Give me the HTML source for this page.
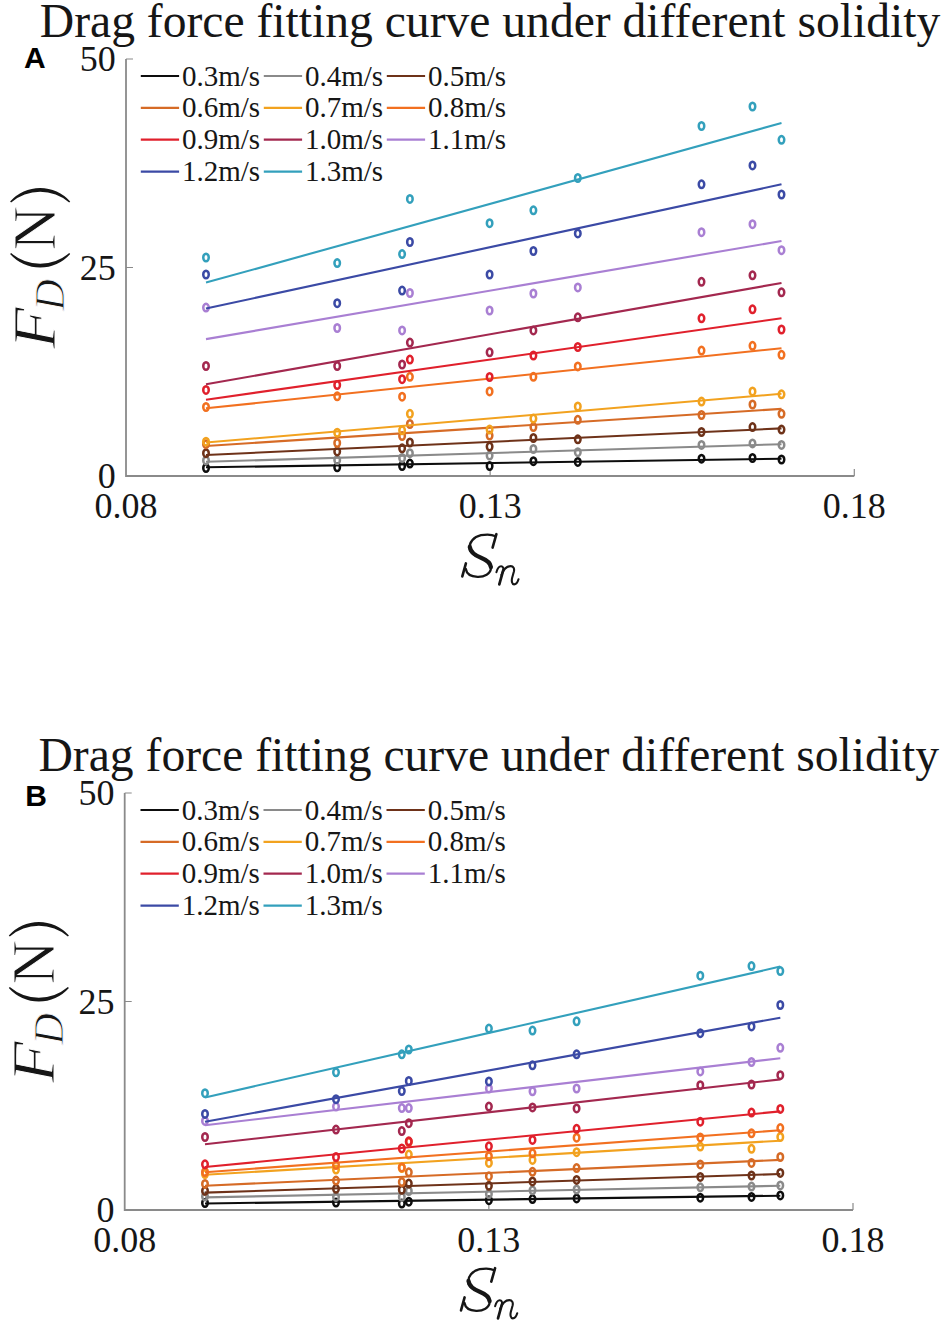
<!DOCTYPE html>
<html><head><meta charset="utf-8"><style>
html,body{margin:0;padding:0;background:#fff;width:946px;height:1323px;overflow:hidden}
svg{display:block}
</style></head><body>
<svg width="946" height="1323" viewBox="0 0 946 1323">
<rect width="946" height="1323" fill="#fff"/>
<text x="39.8" y="37" font-family="'Liberation Serif', serif" font-size="47.6" fill="#161616">Drag force fitting curve under different solidity</text>
<text x="24.1" y="67.9" font-family="'Liberation Sans', sans-serif" font-weight="bold" font-size="30" fill="#000">A</text>
<path d="M126 59 V476 H854.3" fill="none" stroke="#8a8a8a" stroke-width="1.8"/>
<path d="M126 59 H133 M126 267.5 H133 M490.15 476 V469 M854.3 476 V469" fill="none" stroke="#8a8a8a" stroke-width="1.2"/>
<text x="115.8" y="71.4" text-anchor="end" font-family="'Liberation Serif', serif" font-size="36" fill="#161616">50</text>
<text x="115.8" y="279.6" text-anchor="end" font-family="'Liberation Serif', serif" font-size="36" fill="#161616">25</text>
<text x="115.8" y="488" text-anchor="end" font-family="'Liberation Serif', serif" font-size="36" fill="#161616">0</text>
<text x="126" y="517.8" text-anchor="middle" font-family="'Liberation Serif', serif" font-size="36" fill="#161616">0.08</text>
<text x="490.15" y="517.8" text-anchor="middle" font-family="'Liberation Serif', serif" font-size="36" fill="#161616">0.13</text>
<text x="854.3" y="517.8" text-anchor="middle" font-family="'Liberation Serif', serif" font-size="36" fill="#161616">0.18</text>
<text transform="translate(55.3,348.7) rotate(-90) scale(1.11,1)" x="0" y="0" font-family="'Liberation Serif', serif" font-style="italic" font-size="61" fill="#161616" stroke="#fff" stroke-width="0.9" paint-order="normal">F</text>
<text transform="translate(64.2,310.8) rotate(-90) scale(1.04,1)" x="0" y="0" font-family="'Liberation Serif', serif" font-style="italic" font-size="42" fill="#161616" stroke="#fff" stroke-width="0.9" paint-order="normal">D</text>
<text transform="translate(55.3,250.5) rotate(-90) scale(1.0,1)" x="0" y="0" font-family="'Liberation Serif', serif" font-size="61" fill="#161616" stroke="#fff" stroke-width="0.9" paint-order="normal">N</text>
<path d="M10.1 201.6 A40 40 0 0 1 70.2 201.6 L69.2 202.5 A45 45 0 0 0 11.1 202.5 Z" fill="#161616"/>
<path d="M10.1 254 A40 40 0 0 0 70.2 254 L69.2 253.1 A45 45 0 0 1 11.1 253.1 Z" fill="#161616"/>
<g transform="translate(0,0)" fill="none" stroke="#161616" stroke-linecap="round"><path d="M495.6 536.2 C492.3 534.6 486.5 534.2 481 535.2 C473.5 537 469 542.5 469.6 548.5 C470.4 553.8 476 555.8 481 557.8 C487 560.2 491.4 563.2 491 568.2 C490.4 574 484.5 577 477.5 576.8 C471 576.5 466.5 573.5 465.8 569" stroke-width="2.3"/><path d="M469.8 547 C470.5 553 476 555.8 481 557.8 C486.5 560 490.4 562.8 490.9 567" stroke-width="4.3"/><path d="M496.4 534.2 L492.6 547.6" stroke-width="2.6"/><path d="M465.9 563.4 L462.3 576.4" stroke-width="2.6"/></g>
<g transform="translate(0,0)" fill="none" stroke="#161616" stroke-linecap="round" stroke-linejoin="round"><path d="M496.4 572.2 C497.4 568.6 499.1 566.3 501.1 566.3 C503 566.3 503.7 568 503.2 570.3" stroke-width="2"/><path d="M503.2 570.3 L499.3 584.4" stroke-width="2.7"/><path d="M501.4 575 C503.6 569.2 507 566.1 510.6 566.1 C513.5 566.1 514.6 568.5 513.9 571.5 L512.1 578 C511.4 581 511.9 584.4 514.1 584.4 C516.1 584.4 517.7 582 518.5 579.3" stroke-width="2.1"/></g>
<line x1="140.8" y1="76.0" x2="179.10000000000002" y2="76.0" stroke="#0d0d0d" stroke-width="2.2"/>
<text x="182.0" y="85.6" font-family="'Liberation Serif', serif" font-size="29" fill="#161616">0.3m/s</text>
<line x1="263.8" y1="76.0" x2="302.1" y2="76.0" stroke="#8a8a8a" stroke-width="2.2"/>
<text x="305.0" y="85.6" font-family="'Liberation Serif', serif" font-size="29" fill="#161616">0.4m/s</text>
<line x1="386.8" y1="76.0" x2="425.1" y2="76.0" stroke="#6e3219" stroke-width="2.2"/>
<text x="428.0" y="85.6" font-family="'Liberation Serif', serif" font-size="29" fill="#161616">0.5m/s</text>
<line x1="140.8" y1="107.85" x2="179.10000000000002" y2="107.85" stroke="#d66b26" stroke-width="2.2"/>
<text x="182.0" y="117.44999999999999" font-family="'Liberation Serif', serif" font-size="29" fill="#161616">0.6m/s</text>
<line x1="263.8" y1="107.85" x2="302.1" y2="107.85" stroke="#f2a21f" stroke-width="2.2"/>
<text x="305.0" y="117.44999999999999" font-family="'Liberation Serif', serif" font-size="29" fill="#161616">0.7m/s</text>
<line x1="386.8" y1="107.85" x2="425.1" y2="107.85" stroke="#f27020" stroke-width="2.2"/>
<text x="428.0" y="117.44999999999999" font-family="'Liberation Serif', serif" font-size="29" fill="#161616">0.8m/s</text>
<line x1="140.8" y1="139.7" x2="179.10000000000002" y2="139.7" stroke="#e0202c" stroke-width="2.2"/>
<text x="182.0" y="149.29999999999998" font-family="'Liberation Serif', serif" font-size="29" fill="#161616">0.9m/s</text>
<line x1="263.8" y1="139.7" x2="302.1" y2="139.7" stroke="#a3284f" stroke-width="2.2"/>
<text x="305.0" y="149.29999999999998" font-family="'Liberation Serif', serif" font-size="29" fill="#161616">1.0m/s</text>
<line x1="386.8" y1="139.7" x2="425.1" y2="139.7" stroke="#a97fd3" stroke-width="2.2"/>
<text x="428.0" y="149.29999999999998" font-family="'Liberation Serif', serif" font-size="29" fill="#161616">1.1m/s</text>
<line x1="140.8" y1="171.55" x2="179.10000000000002" y2="171.55" stroke="#3b4aa5" stroke-width="2.2"/>
<text x="182.0" y="181.15" font-family="'Liberation Serif', serif" font-size="29" fill="#161616">1.2m/s</text>
<line x1="263.8" y1="171.55" x2="302.1" y2="171.55" stroke="#33a0bc" stroke-width="2.2"/>
<text x="305.0" y="181.15" font-family="'Liberation Serif', serif" font-size="29" fill="#161616">1.3m/s</text>
<ellipse cx="206" cy="468" rx="2.75" ry="3.75" fill="none" stroke="#0d0d0d" stroke-width="2.5"/>
<ellipse cx="337.2" cy="467.3" rx="2.75" ry="3.75" fill="none" stroke="#0d0d0d" stroke-width="2.5"/>
<ellipse cx="402.1" cy="466" rx="2.75" ry="3.75" fill="none" stroke="#0d0d0d" stroke-width="2.5"/>
<ellipse cx="409.9" cy="463.6" rx="2.75" ry="3.75" fill="none" stroke="#0d0d0d" stroke-width="2.5"/>
<ellipse cx="489.6" cy="466" rx="2.75" ry="3.75" fill="none" stroke="#0d0d0d" stroke-width="2.5"/>
<ellipse cx="533.4" cy="461.2" rx="2.75" ry="3.75" fill="none" stroke="#0d0d0d" stroke-width="2.5"/>
<ellipse cx="577.8" cy="461.9" rx="2.75" ry="3.75" fill="none" stroke="#0d0d0d" stroke-width="2.5"/>
<ellipse cx="701.5" cy="458.7" rx="2.75" ry="3.75" fill="none" stroke="#0d0d0d" stroke-width="2.5"/>
<ellipse cx="752.5" cy="458" rx="2.75" ry="3.75" fill="none" stroke="#0d0d0d" stroke-width="2.5"/>
<ellipse cx="781.5" cy="459.5" rx="2.75" ry="3.75" fill="none" stroke="#0d0d0d" stroke-width="2.5"/>
<line x1="206" y1="467.3" x2="781.5" y2="458.7" stroke="#0d0d0d" stroke-width="2.1"/>
<ellipse cx="206" cy="460.4" rx="2.75" ry="3.75" fill="none" stroke="#8a8a8a" stroke-width="2.5"/>
<ellipse cx="337.2" cy="460" rx="2.75" ry="3.75" fill="none" stroke="#8a8a8a" stroke-width="2.5"/>
<ellipse cx="402.1" cy="458" rx="2.75" ry="3.75" fill="none" stroke="#8a8a8a" stroke-width="2.5"/>
<ellipse cx="409.9" cy="453.2" rx="2.75" ry="3.75" fill="none" stroke="#8a8a8a" stroke-width="2.5"/>
<ellipse cx="489.6" cy="455.6" rx="2.75" ry="3.75" fill="none" stroke="#8a8a8a" stroke-width="2.5"/>
<ellipse cx="533.4" cy="449" rx="2.75" ry="3.75" fill="none" stroke="#8a8a8a" stroke-width="2.5"/>
<ellipse cx="577.8" cy="452.2" rx="2.75" ry="3.75" fill="none" stroke="#8a8a8a" stroke-width="2.5"/>
<ellipse cx="701.5" cy="444.9" rx="2.75" ry="3.75" fill="none" stroke="#8a8a8a" stroke-width="2.5"/>
<ellipse cx="752.5" cy="443.4" rx="2.75" ry="3.75" fill="none" stroke="#8a8a8a" stroke-width="2.5"/>
<ellipse cx="781.5" cy="444.9" rx="2.75" ry="3.75" fill="none" stroke="#8a8a8a" stroke-width="2.5"/>
<line x1="206" y1="461.8" x2="781.5" y2="444.2" stroke="#8a8a8a" stroke-width="2.1"/>
<ellipse cx="206" cy="453.2" rx="2.75" ry="3.75" fill="none" stroke="#6e3219" stroke-width="2.5"/>
<ellipse cx="337.2" cy="451.4" rx="2.75" ry="3.75" fill="none" stroke="#6e3219" stroke-width="2.5"/>
<ellipse cx="402.1" cy="448.3" rx="2.75" ry="3.75" fill="none" stroke="#6e3219" stroke-width="2.5"/>
<ellipse cx="409.9" cy="442.5" rx="2.75" ry="3.75" fill="none" stroke="#6e3219" stroke-width="2.5"/>
<ellipse cx="489.6" cy="446.6" rx="2.75" ry="3.75" fill="none" stroke="#6e3219" stroke-width="2.5"/>
<ellipse cx="533.4" cy="438" rx="2.75" ry="3.75" fill="none" stroke="#6e3219" stroke-width="2.5"/>
<ellipse cx="577.8" cy="439.3" rx="2.75" ry="3.75" fill="none" stroke="#6e3219" stroke-width="2.5"/>
<ellipse cx="701.5" cy="432" rx="2.75" ry="3.75" fill="none" stroke="#6e3219" stroke-width="2.5"/>
<ellipse cx="752.5" cy="427.1" rx="2.75" ry="3.75" fill="none" stroke="#6e3219" stroke-width="2.5"/>
<ellipse cx="781.5" cy="429.6" rx="2.75" ry="3.75" fill="none" stroke="#6e3219" stroke-width="2.5"/>
<line x1="206" y1="455" x2="781.5" y2="428.4" stroke="#6e3219" stroke-width="2.1"/>
<ellipse cx="206" cy="444.2" rx="2.75" ry="3.75" fill="none" stroke="#d66b26" stroke-width="2.5"/>
<ellipse cx="337.2" cy="443" rx="2.75" ry="3.75" fill="none" stroke="#d66b26" stroke-width="2.5"/>
<ellipse cx="402.1" cy="436.1" rx="2.75" ry="3.75" fill="none" stroke="#d66b26" stroke-width="2.5"/>
<ellipse cx="409.9" cy="424" rx="2.75" ry="3.75" fill="none" stroke="#d66b26" stroke-width="2.5"/>
<ellipse cx="489.6" cy="435.6" rx="2.75" ry="3.75" fill="none" stroke="#d66b26" stroke-width="2.5"/>
<ellipse cx="533.4" cy="427.1" rx="2.75" ry="3.75" fill="none" stroke="#d66b26" stroke-width="2.5"/>
<ellipse cx="577.8" cy="419.8" rx="2.75" ry="3.75" fill="none" stroke="#d66b26" stroke-width="2.5"/>
<ellipse cx="701.5" cy="415" rx="2.75" ry="3.75" fill="none" stroke="#d66b26" stroke-width="2.5"/>
<ellipse cx="752.5" cy="404.5" rx="2.75" ry="3.75" fill="none" stroke="#d66b26" stroke-width="2.5"/>
<ellipse cx="781.5" cy="413.8" rx="2.75" ry="3.75" fill="none" stroke="#d66b26" stroke-width="2.5"/>
<line x1="206" y1="446" x2="781.5" y2="408.9" stroke="#d66b26" stroke-width="2.1"/>
<ellipse cx="206" cy="441.7" rx="2.75" ry="3.75" fill="none" stroke="#f2a21f" stroke-width="2.5"/>
<ellipse cx="337.2" cy="432.7" rx="2.75" ry="3.75" fill="none" stroke="#f2a21f" stroke-width="2.5"/>
<ellipse cx="402.1" cy="430.3" rx="2.75" ry="3.75" fill="none" stroke="#f2a21f" stroke-width="2.5"/>
<ellipse cx="409.9" cy="413.8" rx="2.75" ry="3.75" fill="none" stroke="#f2a21f" stroke-width="2.5"/>
<ellipse cx="489.6" cy="429.6" rx="2.75" ry="3.75" fill="none" stroke="#f2a21f" stroke-width="2.5"/>
<ellipse cx="533.4" cy="418.6" rx="2.75" ry="3.75" fill="none" stroke="#f2a21f" stroke-width="2.5"/>
<ellipse cx="577.8" cy="406.5" rx="2.75" ry="3.75" fill="none" stroke="#f2a21f" stroke-width="2.5"/>
<ellipse cx="701.5" cy="401.6" rx="2.75" ry="3.75" fill="none" stroke="#f2a21f" stroke-width="2.5"/>
<ellipse cx="752.5" cy="391.4" rx="2.75" ry="3.75" fill="none" stroke="#f2a21f" stroke-width="2.5"/>
<ellipse cx="781.5" cy="394.3" rx="2.75" ry="3.75" fill="none" stroke="#f2a21f" stroke-width="2.5"/>
<line x1="206" y1="442.5" x2="781.5" y2="393.8" stroke="#f2a21f" stroke-width="2.1"/>
<ellipse cx="206" cy="407" rx="2.75" ry="3.75" fill="none" stroke="#f27020" stroke-width="2.5"/>
<ellipse cx="337.2" cy="396.3" rx="2.75" ry="3.75" fill="none" stroke="#f27020" stroke-width="2.5"/>
<ellipse cx="402.1" cy="396.7" rx="2.75" ry="3.75" fill="none" stroke="#f27020" stroke-width="2.5"/>
<ellipse cx="409.9" cy="376.8" rx="2.75" ry="3.75" fill="none" stroke="#f27020" stroke-width="2.5"/>
<ellipse cx="489.6" cy="391.4" rx="2.75" ry="3.75" fill="none" stroke="#f27020" stroke-width="2.5"/>
<ellipse cx="533.4" cy="376.8" rx="2.75" ry="3.75" fill="none" stroke="#f27020" stroke-width="2.5"/>
<ellipse cx="577.8" cy="366.4" rx="2.75" ry="3.75" fill="none" stroke="#f27020" stroke-width="2.5"/>
<ellipse cx="701.5" cy="350.6" rx="2.75" ry="3.75" fill="none" stroke="#f27020" stroke-width="2.5"/>
<ellipse cx="752.5" cy="345.8" rx="2.75" ry="3.75" fill="none" stroke="#f27020" stroke-width="2.5"/>
<ellipse cx="781.5" cy="354.8" rx="2.75" ry="3.75" fill="none" stroke="#f27020" stroke-width="2.5"/>
<line x1="206" y1="408.3" x2="781.5" y2="348.2" stroke="#f27020" stroke-width="2.1"/>
<ellipse cx="206" cy="389.9" rx="2.75" ry="3.75" fill="none" stroke="#e0202c" stroke-width="2.5"/>
<ellipse cx="337.2" cy="385" rx="2.75" ry="3.75" fill="none" stroke="#e0202c" stroke-width="2.5"/>
<ellipse cx="402.1" cy="379.2" rx="2.75" ry="3.75" fill="none" stroke="#e0202c" stroke-width="2.5"/>
<ellipse cx="409.9" cy="359.6" rx="2.75" ry="3.75" fill="none" stroke="#e0202c" stroke-width="2.5"/>
<ellipse cx="489.6" cy="377" rx="2.75" ry="3.75" fill="none" stroke="#e0202c" stroke-width="2.5"/>
<ellipse cx="533.4" cy="355.5" rx="2.75" ry="3.75" fill="none" stroke="#e0202c" stroke-width="2.5"/>
<ellipse cx="577.8" cy="347" rx="2.75" ry="3.75" fill="none" stroke="#e0202c" stroke-width="2.5"/>
<ellipse cx="701.5" cy="318.3" rx="2.75" ry="3.75" fill="none" stroke="#e0202c" stroke-width="2.5"/>
<ellipse cx="752.5" cy="309.3" rx="2.75" ry="3.75" fill="none" stroke="#e0202c" stroke-width="2.5"/>
<ellipse cx="781.5" cy="329.5" rx="2.75" ry="3.75" fill="none" stroke="#e0202c" stroke-width="2.5"/>
<line x1="206" y1="399.7" x2="781.5" y2="318.3" stroke="#e0202c" stroke-width="2.1"/>
<ellipse cx="206" cy="366" rx="2.75" ry="3.75" fill="none" stroke="#a3284f" stroke-width="2.5"/>
<ellipse cx="337.2" cy="366" rx="2.75" ry="3.75" fill="none" stroke="#a3284f" stroke-width="2.5"/>
<ellipse cx="402.1" cy="364.5" rx="2.75" ry="3.75" fill="none" stroke="#a3284f" stroke-width="2.5"/>
<ellipse cx="409.9" cy="342.6" rx="2.75" ry="3.75" fill="none" stroke="#a3284f" stroke-width="2.5"/>
<ellipse cx="489.6" cy="352.3" rx="2.75" ry="3.75" fill="none" stroke="#a3284f" stroke-width="2.5"/>
<ellipse cx="533.4" cy="330.4" rx="2.75" ry="3.75" fill="none" stroke="#a3284f" stroke-width="2.5"/>
<ellipse cx="577.8" cy="317.3" rx="2.75" ry="3.75" fill="none" stroke="#a3284f" stroke-width="2.5"/>
<ellipse cx="701.5" cy="281.8" rx="2.75" ry="3.75" fill="none" stroke="#a3284f" stroke-width="2.5"/>
<ellipse cx="752.5" cy="275.3" rx="2.75" ry="3.75" fill="none" stroke="#a3284f" stroke-width="2.5"/>
<ellipse cx="781.5" cy="292.3" rx="2.75" ry="3.75" fill="none" stroke="#a3284f" stroke-width="2.5"/>
<line x1="206" y1="384.3" x2="781.5" y2="283" stroke="#a3284f" stroke-width="2.1"/>
<ellipse cx="206" cy="307.6" rx="2.75" ry="3.75" fill="none" stroke="#a97fd3" stroke-width="2.5"/>
<ellipse cx="337.2" cy="328" rx="2.75" ry="3.75" fill="none" stroke="#a97fd3" stroke-width="2.5"/>
<ellipse cx="402.1" cy="330.4" rx="2.75" ry="3.75" fill="none" stroke="#a97fd3" stroke-width="2.5"/>
<ellipse cx="409.9" cy="293" rx="2.75" ry="3.75" fill="none" stroke="#a97fd3" stroke-width="2.5"/>
<ellipse cx="489.6" cy="310.5" rx="2.75" ry="3.75" fill="none" stroke="#a97fd3" stroke-width="2.5"/>
<ellipse cx="533.4" cy="293.5" rx="2.75" ry="3.75" fill="none" stroke="#a97fd3" stroke-width="2.5"/>
<ellipse cx="577.8" cy="287.4" rx="2.75" ry="3.75" fill="none" stroke="#a97fd3" stroke-width="2.5"/>
<ellipse cx="701.5" cy="232.2" rx="2.75" ry="3.75" fill="none" stroke="#a97fd3" stroke-width="2.5"/>
<ellipse cx="752.5" cy="224.2" rx="2.75" ry="3.75" fill="none" stroke="#a97fd3" stroke-width="2.5"/>
<ellipse cx="781.5" cy="250.2" rx="2.75" ry="3.75" fill="none" stroke="#a97fd3" stroke-width="2.5"/>
<line x1="206" y1="339.1" x2="781.5" y2="241" stroke="#a97fd3" stroke-width="2.1"/>
<ellipse cx="206" cy="274.5" rx="2.75" ry="3.75" fill="none" stroke="#3b4aa5" stroke-width="2.5"/>
<ellipse cx="337.2" cy="303.2" rx="2.75" ry="3.75" fill="none" stroke="#3b4aa5" stroke-width="2.5"/>
<ellipse cx="402.1" cy="290.6" rx="2.75" ry="3.75" fill="none" stroke="#3b4aa5" stroke-width="2.5"/>
<ellipse cx="409.9" cy="242" rx="2.75" ry="3.75" fill="none" stroke="#3b4aa5" stroke-width="2.5"/>
<ellipse cx="489.6" cy="274.5" rx="2.75" ry="3.75" fill="none" stroke="#3b4aa5" stroke-width="2.5"/>
<ellipse cx="533.4" cy="251" rx="2.75" ry="3.75" fill="none" stroke="#3b4aa5" stroke-width="2.5"/>
<ellipse cx="577.8" cy="233.4" rx="2.75" ry="3.75" fill="none" stroke="#3b4aa5" stroke-width="2.5"/>
<ellipse cx="701.5" cy="184.3" rx="2.75" ry="3.75" fill="none" stroke="#3b4aa5" stroke-width="2.5"/>
<ellipse cx="752.5" cy="165.4" rx="2.75" ry="3.75" fill="none" stroke="#3b4aa5" stroke-width="2.5"/>
<ellipse cx="781.5" cy="194.5" rx="2.75" ry="3.75" fill="none" stroke="#3b4aa5" stroke-width="2.5"/>
<line x1="206" y1="308.5" x2="781.5" y2="184.3" stroke="#3b4aa5" stroke-width="2.1"/>
<ellipse cx="206" cy="257.5" rx="2.75" ry="3.75" fill="none" stroke="#33a0bc" stroke-width="2.5"/>
<ellipse cx="337.2" cy="263.1" rx="2.75" ry="3.75" fill="none" stroke="#33a0bc" stroke-width="2.5"/>
<ellipse cx="402.1" cy="254.1" rx="2.75" ry="3.75" fill="none" stroke="#33a0bc" stroke-width="2.5"/>
<ellipse cx="409.9" cy="198.9" rx="2.75" ry="3.75" fill="none" stroke="#33a0bc" stroke-width="2.5"/>
<ellipse cx="489.6" cy="223.2" rx="2.75" ry="3.75" fill="none" stroke="#33a0bc" stroke-width="2.5"/>
<ellipse cx="533.4" cy="210.3" rx="2.75" ry="3.75" fill="none" stroke="#33a0bc" stroke-width="2.5"/>
<ellipse cx="577.8" cy="178" rx="2.75" ry="3.75" fill="none" stroke="#33a0bc" stroke-width="2.5"/>
<ellipse cx="701.5" cy="126" rx="2.75" ry="3.75" fill="none" stroke="#33a0bc" stroke-width="2.5"/>
<ellipse cx="752.5" cy="106.5" rx="2.75" ry="3.75" fill="none" stroke="#33a0bc" stroke-width="2.5"/>
<ellipse cx="781.5" cy="139.8" rx="2.75" ry="3.75" fill="none" stroke="#33a0bc" stroke-width="2.5"/>
<line x1="206" y1="282.6" x2="781.5" y2="123" stroke="#33a0bc" stroke-width="2.1"/>
<text x="38.5" y="771" font-family="'Liberation Serif', serif" font-size="47.6" fill="#161616">Drag force fitting curve under different solidity</text>
<text x="25.3" y="805.7" font-family="'Liberation Sans', sans-serif" font-weight="bold" font-size="30" fill="#000">B</text>
<path d="M124.7 793 V1210 H853.0" fill="none" stroke="#8a8a8a" stroke-width="1.8"/>
<path d="M124.7 793 H131.7 M124.7 1001.5 H131.7 M488.85 1210 V1203 M853.0 1210 V1203" fill="none" stroke="#8a8a8a" stroke-width="1.2"/>
<text x="114.5" y="805.4" text-anchor="end" font-family="'Liberation Serif', serif" font-size="36" fill="#161616">50</text>
<text x="114.5" y="1013.6" text-anchor="end" font-family="'Liberation Serif', serif" font-size="36" fill="#161616">25</text>
<text x="114.5" y="1222" text-anchor="end" font-family="'Liberation Serif', serif" font-size="36" fill="#161616">0</text>
<text x="124.7" y="1251.8" text-anchor="middle" font-family="'Liberation Serif', serif" font-size="36" fill="#161616">0.08</text>
<text x="488.85" y="1251.8" text-anchor="middle" font-family="'Liberation Serif', serif" font-size="36" fill="#161616">0.13</text>
<text x="853.0" y="1251.8" text-anchor="middle" font-family="'Liberation Serif', serif" font-size="36" fill="#161616">0.18</text>
<text transform="translate(54.0,1082.7) rotate(-90) scale(1.11,1)" x="0" y="0" font-family="'Liberation Serif', serif" font-style="italic" font-size="61" fill="#161616" stroke="#fff" stroke-width="0.9" paint-order="normal">F</text>
<text transform="translate(62.900000000000006,1044.8) rotate(-90) scale(1.04,1)" x="0" y="0" font-family="'Liberation Serif', serif" font-style="italic" font-size="42" fill="#161616" stroke="#fff" stroke-width="0.9" paint-order="normal">D</text>
<text transform="translate(54.0,984.5) rotate(-90) scale(1.0,1)" x="0" y="0" font-family="'Liberation Serif', serif" font-size="61" fill="#161616" stroke="#fff" stroke-width="0.9" paint-order="normal">N</text>
<path d="M8.799999999999999 935.6 A40 40 0 0 1 68.9 935.6 L67.9 936.5 A45 45 0 0 0 9.799999999999999 936.5 Z" fill="#161616"/>
<path d="M8.799999999999999 988 A40 40 0 0 0 68.9 988 L67.9 987.1 A45 45 0 0 1 9.799999999999999 987.1 Z" fill="#161616"/>
<g transform="translate(-1.3,734)" fill="none" stroke="#161616" stroke-linecap="round"><path d="M495.6 536.2 C492.3 534.6 486.5 534.2 481 535.2 C473.5 537 469 542.5 469.6 548.5 C470.4 553.8 476 555.8 481 557.8 C487 560.2 491.4 563.2 491 568.2 C490.4 574 484.5 577 477.5 576.8 C471 576.5 466.5 573.5 465.8 569" stroke-width="2.3"/><path d="M469.8 547 C470.5 553 476 555.8 481 557.8 C486.5 560 490.4 562.8 490.9 567" stroke-width="4.3"/><path d="M496.4 534.2 L492.6 547.6" stroke-width="2.6"/><path d="M465.9 563.4 L462.3 576.4" stroke-width="2.6"/></g>
<g transform="translate(-1.3,734)" fill="none" stroke="#161616" stroke-linecap="round" stroke-linejoin="round"><path d="M496.4 572.2 C497.4 568.6 499.1 566.3 501.1 566.3 C503 566.3 503.7 568 503.2 570.3" stroke-width="2"/><path d="M503.2 570.3 L499.3 584.4" stroke-width="2.7"/><path d="M501.4 575 C503.6 569.2 507 566.1 510.6 566.1 C513.5 566.1 514.6 568.5 513.9 571.5 L512.1 578 C511.4 581 511.9 584.4 514.1 584.4 C516.1 584.4 517.7 582 518.5 579.3" stroke-width="2.1"/></g>
<line x1="140.5" y1="810.0" x2="178.8" y2="810.0" stroke="#0d0d0d" stroke-width="2.2"/>
<text x="181.7" y="819.6" font-family="'Liberation Serif', serif" font-size="29" fill="#161616">0.3m/s</text>
<line x1="263.5" y1="810.0" x2="301.8" y2="810.0" stroke="#8a8a8a" stroke-width="2.2"/>
<text x="304.7" y="819.6" font-family="'Liberation Serif', serif" font-size="29" fill="#161616">0.4m/s</text>
<line x1="386.5" y1="810.0" x2="424.8" y2="810.0" stroke="#6e3219" stroke-width="2.2"/>
<text x="427.7" y="819.6" font-family="'Liberation Serif', serif" font-size="29" fill="#161616">0.5m/s</text>
<line x1="140.5" y1="841.85" x2="178.8" y2="841.85" stroke="#d66b26" stroke-width="2.2"/>
<text x="181.7" y="851.45" font-family="'Liberation Serif', serif" font-size="29" fill="#161616">0.6m/s</text>
<line x1="263.5" y1="841.85" x2="301.8" y2="841.85" stroke="#f2a21f" stroke-width="2.2"/>
<text x="304.7" y="851.45" font-family="'Liberation Serif', serif" font-size="29" fill="#161616">0.7m/s</text>
<line x1="386.5" y1="841.85" x2="424.8" y2="841.85" stroke="#f27020" stroke-width="2.2"/>
<text x="427.7" y="851.45" font-family="'Liberation Serif', serif" font-size="29" fill="#161616">0.8m/s</text>
<line x1="140.5" y1="873.7" x2="178.8" y2="873.7" stroke="#e0202c" stroke-width="2.2"/>
<text x="181.7" y="883.3000000000001" font-family="'Liberation Serif', serif" font-size="29" fill="#161616">0.9m/s</text>
<line x1="263.5" y1="873.7" x2="301.8" y2="873.7" stroke="#a3284f" stroke-width="2.2"/>
<text x="304.7" y="883.3000000000001" font-family="'Liberation Serif', serif" font-size="29" fill="#161616">1.0m/s</text>
<line x1="386.5" y1="873.7" x2="424.8" y2="873.7" stroke="#a97fd3" stroke-width="2.2"/>
<text x="427.7" y="883.3000000000001" font-family="'Liberation Serif', serif" font-size="29" fill="#161616">1.1m/s</text>
<line x1="140.5" y1="905.55" x2="178.8" y2="905.55" stroke="#3b4aa5" stroke-width="2.2"/>
<text x="181.7" y="915.15" font-family="'Liberation Serif', serif" font-size="29" fill="#161616">1.2m/s</text>
<line x1="263.5" y1="905.55" x2="301.8" y2="905.55" stroke="#33a0bc" stroke-width="2.2"/>
<text x="304.7" y="915.15" font-family="'Liberation Serif', serif" font-size="29" fill="#161616">1.3m/s</text>
<ellipse cx="205" cy="1203" rx="2.75" ry="3.75" fill="none" stroke="#0d0d0d" stroke-width="2.5"/>
<ellipse cx="336" cy="1202.5" rx="2.75" ry="3.75" fill="none" stroke="#0d0d0d" stroke-width="2.5"/>
<ellipse cx="401.8" cy="1203.6" rx="2.75" ry="3.75" fill="none" stroke="#0d0d0d" stroke-width="2.5"/>
<ellipse cx="408.8" cy="1201.7" rx="2.75" ry="3.75" fill="none" stroke="#0d0d0d" stroke-width="2.5"/>
<ellipse cx="488.9" cy="1200.2" rx="2.75" ry="3.75" fill="none" stroke="#0d0d0d" stroke-width="2.5"/>
<ellipse cx="532.5" cy="1199.1" rx="2.75" ry="3.75" fill="none" stroke="#0d0d0d" stroke-width="2.5"/>
<ellipse cx="576.6" cy="1198.4" rx="2.75" ry="3.75" fill="none" stroke="#0d0d0d" stroke-width="2.5"/>
<ellipse cx="700.3" cy="1197.7" rx="2.75" ry="3.75" fill="none" stroke="#0d0d0d" stroke-width="2.5"/>
<ellipse cx="751.5" cy="1196.9" rx="2.75" ry="3.75" fill="none" stroke="#0d0d0d" stroke-width="2.5"/>
<ellipse cx="780.3" cy="1195.4" rx="2.75" ry="3.75" fill="none" stroke="#0d0d0d" stroke-width="2.5"/>
<line x1="205" y1="1203.5" x2="780.3" y2="1195.7" stroke="#0d0d0d" stroke-width="2.1"/>
<ellipse cx="205" cy="1196.5" rx="2.75" ry="3.75" fill="none" stroke="#8a8a8a" stroke-width="2.5"/>
<ellipse cx="336" cy="1196.9" rx="2.75" ry="3.75" fill="none" stroke="#8a8a8a" stroke-width="2.5"/>
<ellipse cx="401.8" cy="1196.9" rx="2.75" ry="3.75" fill="none" stroke="#8a8a8a" stroke-width="2.5"/>
<ellipse cx="408.8" cy="1191" rx="2.75" ry="3.75" fill="none" stroke="#8a8a8a" stroke-width="2.5"/>
<ellipse cx="488.9" cy="1194" rx="2.75" ry="3.75" fill="none" stroke="#8a8a8a" stroke-width="2.5"/>
<ellipse cx="532.5" cy="1190.3" rx="2.75" ry="3.75" fill="none" stroke="#8a8a8a" stroke-width="2.5"/>
<ellipse cx="576.6" cy="1189.5" rx="2.75" ry="3.75" fill="none" stroke="#8a8a8a" stroke-width="2.5"/>
<ellipse cx="700.3" cy="1187.3" rx="2.75" ry="3.75" fill="none" stroke="#8a8a8a" stroke-width="2.5"/>
<ellipse cx="751.5" cy="1186.6" rx="2.75" ry="3.75" fill="none" stroke="#8a8a8a" stroke-width="2.5"/>
<ellipse cx="780.3" cy="1185.4" rx="2.75" ry="3.75" fill="none" stroke="#8a8a8a" stroke-width="2.5"/>
<line x1="205" y1="1197.4" x2="780.3" y2="1185.8" stroke="#8a8a8a" stroke-width="2.1"/>
<ellipse cx="205" cy="1190.9" rx="2.75" ry="3.75" fill="none" stroke="#6e3219" stroke-width="2.5"/>
<ellipse cx="336" cy="1188.8" rx="2.75" ry="3.75" fill="none" stroke="#6e3219" stroke-width="2.5"/>
<ellipse cx="401.8" cy="1189.8" rx="2.75" ry="3.75" fill="none" stroke="#6e3219" stroke-width="2.5"/>
<ellipse cx="408.8" cy="1183.6" rx="2.75" ry="3.75" fill="none" stroke="#6e3219" stroke-width="2.5"/>
<ellipse cx="488.9" cy="1185.8" rx="2.75" ry="3.75" fill="none" stroke="#6e3219" stroke-width="2.5"/>
<ellipse cx="532.5" cy="1181.4" rx="2.75" ry="3.75" fill="none" stroke="#6e3219" stroke-width="2.5"/>
<ellipse cx="576.6" cy="1179.9" rx="2.75" ry="3.75" fill="none" stroke="#6e3219" stroke-width="2.5"/>
<ellipse cx="700.3" cy="1176.9" rx="2.75" ry="3.75" fill="none" stroke="#6e3219" stroke-width="2.5"/>
<ellipse cx="751.5" cy="1175.5" rx="2.75" ry="3.75" fill="none" stroke="#6e3219" stroke-width="2.5"/>
<ellipse cx="780.3" cy="1172.9" rx="2.75" ry="3.75" fill="none" stroke="#6e3219" stroke-width="2.5"/>
<line x1="205" y1="1192.6" x2="780.3" y2="1174" stroke="#6e3219" stroke-width="2.1"/>
<ellipse cx="205" cy="1183.9" rx="2.75" ry="3.75" fill="none" stroke="#d66b26" stroke-width="2.5"/>
<ellipse cx="336" cy="1180.6" rx="2.75" ry="3.75" fill="none" stroke="#d66b26" stroke-width="2.5"/>
<ellipse cx="401.8" cy="1182.1" rx="2.75" ry="3.75" fill="none" stroke="#d66b26" stroke-width="2.5"/>
<ellipse cx="408.8" cy="1172.3" rx="2.75" ry="3.75" fill="none" stroke="#d66b26" stroke-width="2.5"/>
<ellipse cx="488.9" cy="1176.2" rx="2.75" ry="3.75" fill="none" stroke="#d66b26" stroke-width="2.5"/>
<ellipse cx="532.5" cy="1171.8" rx="2.75" ry="3.75" fill="none" stroke="#d66b26" stroke-width="2.5"/>
<ellipse cx="576.6" cy="1168.1" rx="2.75" ry="3.75" fill="none" stroke="#d66b26" stroke-width="2.5"/>
<ellipse cx="700.3" cy="1164.4" rx="2.75" ry="3.75" fill="none" stroke="#d66b26" stroke-width="2.5"/>
<ellipse cx="751.5" cy="1162.9" rx="2.75" ry="3.75" fill="none" stroke="#d66b26" stroke-width="2.5"/>
<ellipse cx="780.3" cy="1157" rx="2.75" ry="3.75" fill="none" stroke="#d66b26" stroke-width="2.5"/>
<line x1="205" y1="1185.7" x2="780.3" y2="1159.9" stroke="#d66b26" stroke-width="2.1"/>
<ellipse cx="205" cy="1174" rx="2.75" ry="3.75" fill="none" stroke="#f2a21f" stroke-width="2.5"/>
<ellipse cx="336" cy="1169.5" rx="2.75" ry="3.75" fill="none" stroke="#f2a21f" stroke-width="2.5"/>
<ellipse cx="401.8" cy="1168" rx="2.75" ry="3.75" fill="none" stroke="#f2a21f" stroke-width="2.5"/>
<ellipse cx="408.8" cy="1154.6" rx="2.75" ry="3.75" fill="none" stroke="#f2a21f" stroke-width="2.5"/>
<ellipse cx="488.9" cy="1162.9" rx="2.75" ry="3.75" fill="none" stroke="#f2a21f" stroke-width="2.5"/>
<ellipse cx="532.5" cy="1159.9" rx="2.75" ry="3.75" fill="none" stroke="#f2a21f" stroke-width="2.5"/>
<ellipse cx="576.6" cy="1152.2" rx="2.75" ry="3.75" fill="none" stroke="#f2a21f" stroke-width="2.5"/>
<ellipse cx="700.3" cy="1146.6" rx="2.75" ry="3.75" fill="none" stroke="#f2a21f" stroke-width="2.5"/>
<ellipse cx="751.5" cy="1148.8" rx="2.75" ry="3.75" fill="none" stroke="#f2a21f" stroke-width="2.5"/>
<ellipse cx="780.3" cy="1137" rx="2.75" ry="3.75" fill="none" stroke="#f2a21f" stroke-width="2.5"/>
<line x1="205" y1="1174.8" x2="780.3" y2="1140.7" stroke="#f2a21f" stroke-width="2.1"/>
<ellipse cx="205" cy="1172" rx="2.75" ry="3.75" fill="none" stroke="#f27020" stroke-width="2.5"/>
<ellipse cx="336" cy="1165.1" rx="2.75" ry="3.75" fill="none" stroke="#f27020" stroke-width="2.5"/>
<ellipse cx="401.8" cy="1167.4" rx="2.75" ry="3.75" fill="none" stroke="#f27020" stroke-width="2.5"/>
<ellipse cx="408.8" cy="1142" rx="2.75" ry="3.75" fill="none" stroke="#f27020" stroke-width="2.5"/>
<ellipse cx="488.9" cy="1156.2" rx="2.75" ry="3.75" fill="none" stroke="#f27020" stroke-width="2.5"/>
<ellipse cx="532.5" cy="1153.3" rx="2.75" ry="3.75" fill="none" stroke="#f27020" stroke-width="2.5"/>
<ellipse cx="576.6" cy="1137.7" rx="2.75" ry="3.75" fill="none" stroke="#f27020" stroke-width="2.5"/>
<ellipse cx="700.3" cy="1137.4" rx="2.75" ry="3.75" fill="none" stroke="#f27020" stroke-width="2.5"/>
<ellipse cx="751.5" cy="1133.3" rx="2.75" ry="3.75" fill="none" stroke="#f27020" stroke-width="2.5"/>
<ellipse cx="780.3" cy="1128.1" rx="2.75" ry="3.75" fill="none" stroke="#f27020" stroke-width="2.5"/>
<line x1="205" y1="1172.2" x2="780.3" y2="1130.3" stroke="#f27020" stroke-width="2.1"/>
<ellipse cx="205" cy="1164.3" rx="2.75" ry="3.75" fill="none" stroke="#e0202c" stroke-width="2.5"/>
<ellipse cx="336" cy="1157" rx="2.75" ry="3.75" fill="none" stroke="#e0202c" stroke-width="2.5"/>
<ellipse cx="401.8" cy="1148.5" rx="2.75" ry="3.75" fill="none" stroke="#e0202c" stroke-width="2.5"/>
<ellipse cx="408.8" cy="1141.3" rx="2.75" ry="3.75" fill="none" stroke="#e0202c" stroke-width="2.5"/>
<ellipse cx="488.9" cy="1146.3" rx="2.75" ry="3.75" fill="none" stroke="#e0202c" stroke-width="2.5"/>
<ellipse cx="532.5" cy="1139.9" rx="2.75" ry="3.75" fill="none" stroke="#e0202c" stroke-width="2.5"/>
<ellipse cx="576.6" cy="1128.8" rx="2.75" ry="3.75" fill="none" stroke="#e0202c" stroke-width="2.5"/>
<ellipse cx="700.3" cy="1121.7" rx="2.75" ry="3.75" fill="none" stroke="#e0202c" stroke-width="2.5"/>
<ellipse cx="751.5" cy="1112.6" rx="2.75" ry="3.75" fill="none" stroke="#e0202c" stroke-width="2.5"/>
<ellipse cx="780.3" cy="1108.9" rx="2.75" ry="3.75" fill="none" stroke="#e0202c" stroke-width="2.5"/>
<line x1="205" y1="1167" x2="780.3" y2="1111.4" stroke="#e0202c" stroke-width="2.1"/>
<ellipse cx="205" cy="1137" rx="2.75" ry="3.75" fill="none" stroke="#a3284f" stroke-width="2.5"/>
<ellipse cx="336" cy="1129.6" rx="2.75" ry="3.75" fill="none" stroke="#a3284f" stroke-width="2.5"/>
<ellipse cx="401.8" cy="1131.1" rx="2.75" ry="3.75" fill="none" stroke="#a3284f" stroke-width="2.5"/>
<ellipse cx="408.8" cy="1123.2" rx="2.75" ry="3.75" fill="none" stroke="#a3284f" stroke-width="2.5"/>
<ellipse cx="488.9" cy="1106.6" rx="2.75" ry="3.75" fill="none" stroke="#a3284f" stroke-width="2.5"/>
<ellipse cx="532.5" cy="1107.4" rx="2.75" ry="3.75" fill="none" stroke="#a3284f" stroke-width="2.5"/>
<ellipse cx="576.6" cy="1108.4" rx="2.75" ry="3.75" fill="none" stroke="#a3284f" stroke-width="2.5"/>
<ellipse cx="700.3" cy="1085.2" rx="2.75" ry="3.75" fill="none" stroke="#a3284f" stroke-width="2.5"/>
<ellipse cx="751.5" cy="1084.5" rx="2.75" ry="3.75" fill="none" stroke="#a3284f" stroke-width="2.5"/>
<ellipse cx="780.3" cy="1075.2" rx="2.75" ry="3.75" fill="none" stroke="#a3284f" stroke-width="2.5"/>
<line x1="205" y1="1144.3" x2="780.3" y2="1079.4" stroke="#a3284f" stroke-width="2.1"/>
<ellipse cx="205" cy="1120.9" rx="2.75" ry="3.75" fill="none" stroke="#a97fd3" stroke-width="2.5"/>
<ellipse cx="336" cy="1106.6" rx="2.75" ry="3.75" fill="none" stroke="#a97fd3" stroke-width="2.5"/>
<ellipse cx="401.8" cy="1108.1" rx="2.75" ry="3.75" fill="none" stroke="#a97fd3" stroke-width="2.5"/>
<ellipse cx="408.8" cy="1108.1" rx="2.75" ry="3.75" fill="none" stroke="#a97fd3" stroke-width="2.5"/>
<ellipse cx="488.9" cy="1088.5" rx="2.75" ry="3.75" fill="none" stroke="#a97fd3" stroke-width="2.5"/>
<ellipse cx="532.5" cy="1091.3" rx="2.75" ry="3.75" fill="none" stroke="#a97fd3" stroke-width="2.5"/>
<ellipse cx="576.6" cy="1088.5" rx="2.75" ry="3.75" fill="none" stroke="#a97fd3" stroke-width="2.5"/>
<ellipse cx="700.3" cy="1071.4" rx="2.75" ry="3.75" fill="none" stroke="#a97fd3" stroke-width="2.5"/>
<ellipse cx="751.5" cy="1062" rx="2.75" ry="3.75" fill="none" stroke="#a97fd3" stroke-width="2.5"/>
<ellipse cx="780.3" cy="1047.8" rx="2.75" ry="3.75" fill="none" stroke="#a97fd3" stroke-width="2.5"/>
<line x1="205" y1="1125.2" x2="780.3" y2="1058.2" stroke="#a97fd3" stroke-width="2.1"/>
<ellipse cx="205" cy="1113.9" rx="2.75" ry="3.75" fill="none" stroke="#3b4aa5" stroke-width="2.5"/>
<ellipse cx="336" cy="1099.2" rx="2.75" ry="3.75" fill="none" stroke="#3b4aa5" stroke-width="2.5"/>
<ellipse cx="401.8" cy="1091.1" rx="2.75" ry="3.75" fill="none" stroke="#3b4aa5" stroke-width="2.5"/>
<ellipse cx="408.8" cy="1081" rx="2.75" ry="3.75" fill="none" stroke="#3b4aa5" stroke-width="2.5"/>
<ellipse cx="488.9" cy="1081.4" rx="2.75" ry="3.75" fill="none" stroke="#3b4aa5" stroke-width="2.5"/>
<ellipse cx="532.5" cy="1065.3" rx="2.75" ry="3.75" fill="none" stroke="#3b4aa5" stroke-width="2.5"/>
<ellipse cx="576.6" cy="1054.3" rx="2.75" ry="3.75" fill="none" stroke="#3b4aa5" stroke-width="2.5"/>
<ellipse cx="700.3" cy="1033.2" rx="2.75" ry="3.75" fill="none" stroke="#3b4aa5" stroke-width="2.5"/>
<ellipse cx="751.5" cy="1026.4" rx="2.75" ry="3.75" fill="none" stroke="#3b4aa5" stroke-width="2.5"/>
<ellipse cx="780.3" cy="1005" rx="2.75" ry="3.75" fill="none" stroke="#3b4aa5" stroke-width="2.5"/>
<line x1="205" y1="1121.7" x2="780.3" y2="1017.7" stroke="#3b4aa5" stroke-width="2.1"/>
<ellipse cx="205" cy="1093.2" rx="2.75" ry="3.75" fill="none" stroke="#33a0bc" stroke-width="2.5"/>
<ellipse cx="336" cy="1072.3" rx="2.75" ry="3.75" fill="none" stroke="#33a0bc" stroke-width="2.5"/>
<ellipse cx="401.8" cy="1054.3" rx="2.75" ry="3.75" fill="none" stroke="#33a0bc" stroke-width="2.5"/>
<ellipse cx="408.8" cy="1049.5" rx="2.75" ry="3.75" fill="none" stroke="#33a0bc" stroke-width="2.5"/>
<ellipse cx="488.9" cy="1028.6" rx="2.75" ry="3.75" fill="none" stroke="#33a0bc" stroke-width="2.5"/>
<ellipse cx="532.5" cy="1030.6" rx="2.75" ry="3.75" fill="none" stroke="#33a0bc" stroke-width="2.5"/>
<ellipse cx="576.6" cy="1021.3" rx="2.75" ry="3.75" fill="none" stroke="#33a0bc" stroke-width="2.5"/>
<ellipse cx="700.3" cy="975.7" rx="2.75" ry="3.75" fill="none" stroke="#33a0bc" stroke-width="2.5"/>
<ellipse cx="751.5" cy="966.1" rx="2.75" ry="3.75" fill="none" stroke="#33a0bc" stroke-width="2.5"/>
<ellipse cx="780.3" cy="971.1" rx="2.75" ry="3.75" fill="none" stroke="#33a0bc" stroke-width="2.5"/>
<line x1="205" y1="1097.4" x2="780.3" y2="966.6" stroke="#33a0bc" stroke-width="2.1"/>
</svg></body></html>
